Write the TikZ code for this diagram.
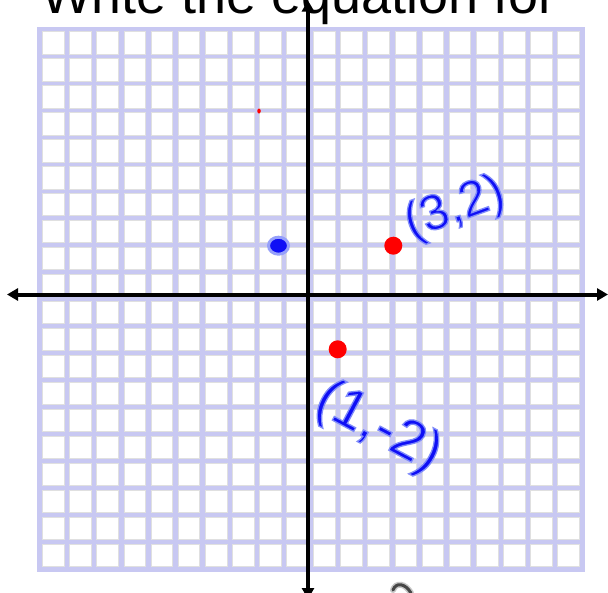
\documentclass[tikz,border=0pt]{standalone}
\usepackage{fontspec}
\setmainfont{Liberation Sans}
\usetikzlibrary{arrows.meta,shapes.geometric}
\definecolor{gridlav}{RGB}{200,200,242}
\definecolor{cellgrey}{RGB}{224,224,224}
\definecolor{penblue}{RGB}{15,15,245}
\definecolor{glowblue}{RGB}{150,160,250}
\definecolor{pengrey}{RGB}{70,70,70}
\newcommand{\glowtext}[1]{\special{pdf:literal direct 2 Tr 1.3 w 0.5 0.55 0.98 RG}#1\special{pdf:literal direct 0 Tr}}
\begin{document}
\begin{tikzpicture}[x=1pt,y=-1pt,
  titletext/.style={font=\fontsize{54}{60}\selectfont, inner sep=0, anchor=base west},
  cellbox/.style={fill=white, draw=cellgrey, line width=0.9pt},
  axisline/.style={line width=4pt, {Triangle[length=11pt,width=12pt]}-{Triangle[length=11pt,width=12pt]}},
  reddot/.style={circle, fill=red, minimum size=18pt, inner sep=0},
  bluedot/.style={ellipse, fill=penblue, draw=glowblue, line width=3pt, minimum width=20pt, minimum height=17pt, inner sep=0},
  speck/.style={ellipse, fill=red, minimum width=3.5pt, minimum height=5pt, inner sep=0},
  handlabel/.style={text=penblue, inner sep=0}]
\useasboundingbox (0,0) rectangle (608,592);
\clip (0,0) rectangle (608,592);
\fill[white] (0,0) rectangle (608,592);
% title (cut off at top)
\node[titletext] (title) at (41,13) {Write the equation for};
% grid
\fill[gridlav] (37.3,27) rectangle (584.5,571.7);
\foreach \i in {0,...,19}{
  \foreach \j in {0,...,19}{
    \draw[cellbox] ({40+\i*27.1+2.7},{29.5+\j*26.975+2.4}) rectangle ({40+(\i+1)*27.1-2.7},{29.5+(\j+1)*26.975-2.4});
  }
}
% axes
\coordinate (xl) at (7,294.5);
\coordinate (xr) at (608,294.5);
\coordinate (yt) at (308,0.5);
\coordinate (yb) at (308,599);
\draw[axisline] (xl) -- (xr);
\draw[axisline] (yt) -- (yb);
% points
\node[reddot] (p32) at (393.3,245.7) {};
\node[reddot] (p12) at (337.7,349.3) {};
\node[speck] (spk) at (259,111) {};
\node[bluedot] (bd) at (278.5,245.7) {};
% handwritten labels
\node[handlabel, rotate=20, font=\fontsize{50}{50}\selectfont] (lab32) at (455,209) {\glowtext{(3,2)}};
\node[handlabel, rotate=-28, font=\fontsize{56}{56}\selectfont] (lab12) at (378,428) {\glowtext{(1,-2)}};
% cut-off pen stroke at the bottom
\draw[line width=6pt, draw=gray!45, line cap=round] (393,590) .. controls (396,582) and (405,583) .. (411,593);
\draw[line width=3pt, draw=pengrey, line cap=round] (393,590) .. controls (396,582) and (405,583) .. (411,593);
\end{tikzpicture}
\end{document}
